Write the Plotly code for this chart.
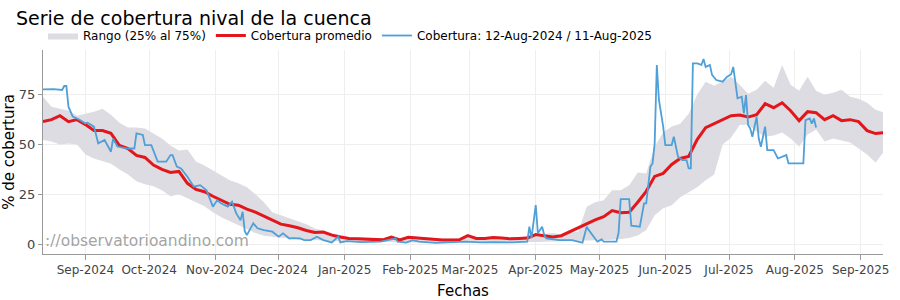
import pandas as pd
import plotly.graph_objects as go

start = "2024-08-12"

# Cobertura promedio y rango (25%-75%), muestreado cada 4 dias desde 12-Aug-2024
promedio = [61.5, 62.5, 64.5, 61.5, 62.5, 60.0, 57.0, 57.0, 55.6, 49.5,
            48.0, 44.5, 43.5, 39.7, 37.5, 36.0, 36.5, 30.5, 27.5, 26.3,
            24.0, 21.8, 20.0, 19.5, 17.5, 16.0, 14.0, 12.0, 10.0, 9.2,
            8.2, 6.8, 5.8, 6.0, 4.5, 3.5, 2.8, 2.6, 2.4, 2.3,
            2.1, 3.5, 2.1, 3.4, 3.0, 2.5, 2.2, 2.0, 2.0, 2.1,
            4.2, 2.8, 2.8, 3.3, 3.0, 2.6, 2.8, 3.0, 4.8, 4.2,
            3.6, 4.2, 6.2, 8.0, 10.0, 12.2, 13.7, 16.8, 15.7, 16.0,
            21.0, 26.5, 34.0, 35.5, 40.0, 43.0, 44.0, 52.5, 58.5, 60.5,
            62.3, 64.5, 64.8, 63.8, 65.0, 70.5, 68.5, 71.0, 67.0, 62.0,
            66.5, 66.0, 62.5, 64.5, 62.0, 62.5, 61.5, 57.0, 55.5, 56.0]

p75 = [74.0, 69.0, 68.0, 67.0, 64.5, 65.5, 66.5, 68.0, 65.0, 61.0,
       58.5, 58.5, 58.0, 55.5, 53.0, 49.5, 47.0, 47.5, 41.5, 39.5,
       37.0, 34.8, 32.0, 30.5, 28.5, 25.0, 21.0, 16.0, 14.5, 13.0,
       11.5, 10.0, 7.8, 6.5, 5.5, 4.5, 3.5, 3.3, 3.1, 3.0,
       2.9, 4.0, 2.9, 3.9, 3.6, 3.2, 2.9, 2.8, 2.8, 2.9,
       4.6, 3.4, 3.4, 3.8, 3.6, 3.3, 3.4, 3.8, 5.5, 5.0,
       5.5, 4.8, 6.0, 6.2, 18.8, 21.0, 22.0, 27.0, 27.0, 29.5,
       36.0, 35.5, 49.0, 56.0, 59.0, 60.5, 65.5, 75.0, 81.5, 79.5,
       81.5, 84.0, 80.0, 75.5, 77.5, 82.0, 78.5, 90.0, 80.0, 77.0,
       84.0, 77.0, 75.0, 76.0, 77.5, 74.0, 73.0, 71.0, 67.5, 66.0]

p25 = [52.3, 51.5, 50.0, 50.5, 50.0, 45.0, 43.0, 41.8, 40.3, 37.5,
       35.0, 31.5, 30.0, 29.0, 27.0, 24.0, 25.0, 23.0, 21.0, 19.0,
       16.0, 13.5, 11.5, 9.5, 7.5, 5.5, 4.2, 3.6, 3.2, 2.8,
       2.5, 2.2, 2.0, 1.8, 1.4, 1.2, 1.0, 0.9, 1.0, 0.8,
       0.9, 1.0, 0.8, 0.7, 0.9, 0.8, 0.8, 0.7, 0.8, 0.9,
       0.8, 0.9, 0.8, 0.8, 0.7, 0.8, 0.8, 0.9, 1.0, 1.2,
       1.3, 1.5, 1.7, 1.7, 1.7, 1.8, 2.0, 2.2, 2.5, 3.0,
       4.3, 7.0, 14.5, 18.0, 19.5, 23.5, 26.0, 28.5, 32.0, 35.0,
       50.0, 53.5, 59.8, 60.0, 56.5, 54.0, 54.5, 56.0, 53.0, 49.0,
       55.0, 57.5, 51.5, 53.0, 52.0, 51.0, 48.0, 45.0, 41.0, 46.5]

# Cobertura 12-Aug-2024 / 11-Aug-2025: dias desde el inicio y valor
cob_dia = [0, 5, 9, 10, 11, 12, 14, 17, 20, 21, 24, 26, 29, 32, 33, 35, 40, 43, 44, 47,
           48, 51, 54, 58, 60, 61, 63, 65, 68, 71, 74, 77, 80, 82, 84, 87, 89, 91, 93, 94,
           95, 96, 99, 101, 104, 108, 111, 113, 116, 118, 121, 123, 126, 129, 132, 136, 139, 140, 143, 150,
           159, 166, 167, 171, 174, 177, 185, 190, 199, 206, 213, 221, 228, 229, 230, 232, 233, 235, 236, 237,
           243, 249, 254, 256, 257, 261, 263, 264, 270, 271, 272, 276, 277, 281, 283, 284, 286, 287, 288, 289,
           290, 292, 293, 296, 297, 299, 301, 303, 304, 305, 306, 308, 310, 311, 312, 314, 315, 317, 320, 322,
           324, 325, 326, 327, 329, 330, 331, 332, 333, 334, 336, 337, 338, 340, 341, 344, 346, 350, 351, 358,
           359, 361, 362, 363, 364]
cob_val = [77.7, 77.8, 77.4, 79.4, 79.4, 69.0, 64.0, 62.6, 60.6, 61.0, 59.0, 50.6, 52.3, 46.4, 53.0, 49.0, 48.0, 48.0, 55.6, 54.8,
           49.7, 49.7, 41.4, 41.4, 44.7, 44.7, 38.9, 38.0, 33.8, 28.8, 29.6, 27.0, 18.8, 22.0, 20.4, 18.8, 21.3, 15.4, 12.0, 16.2,
           6.5, 4.5, 10.4, 7.9, 7.0, 6.2, 3.7, 5.4, 2.8, 3.0, 2.8, 2.0, 2.0, 3.7, 2.0, 0.8, 3.7, 0.8, 1.5, 1.0,
           1.2, 2.8, 1.2, 0.7, 2.0, 1.2, 0.6, 0.8, 1.2, 0.8, 1.0, 0.8, 1.2, 8.7, 3.0, 19.6, 5.4, 8.7, 4.5, 2.8,
           2.0, 2.0, 0.7, 8.7, 7.0, 1.2, 2.3, 1.2, 1.2, 5.7, 22.6, 22.6, 9.2, 8.7, 20.4, 20.4, 38.9, 40.5, 50.6, 90.0,
           72.4, 59.0, 49.7, 49.7, 53.9, 43.9, 42.2, 42.2, 38.0, 38.0, 90.8, 90.8, 90.0, 93.0, 89.0, 90.0, 85.0, 82.4, 81.6, 84.0,
           85.3, 89.0, 80.7, 73.2, 74.0, 65.7, 74.9, 59.8, 58.0, 53.9, 64.0, 53.0, 48.9, 59.0, 47.2, 47.2, 43.0, 44.7, 40.5, 40.5,
           62.3, 63.1, 60.5, 63.1, 58.6]

fechas = pd.date_range(start, periods=len(promedio), freq="4D")
cob_fechas = pd.Timestamp(start) + pd.to_timedelta(cob_dia, unit="D")

FONT = "DejaVu Sans"

fig = go.Figure()
fig.add_trace(go.Scatter(x=fechas, y=p75, mode="lines", line=dict(width=0, color="#dcdce2"),
                         showlegend=False, hoverinfo="skip"))
fig.add_trace(go.Scatter(x=fechas, y=p25, mode="lines", line=dict(width=0, color="#dcdce2"),
                         fill="tonexty", fillcolor="#dcdce2", name="Rango (25% al 75%)"))
fig.add_trace(go.Scatter(x=fechas, y=promedio, mode="lines", line=dict(width=3, color="#e3161b"),
                         name="Cobertura promedio"))
fig.add_trace(go.Scatter(x=cob_fechas, y=cob_val, mode="lines", line=dict(width=1.8, color="#4f9fd8"),
                         name="Cobertura: 12-Aug-2024 / 11-Aug-2025"))

fig.update_layout(
    width=900, height=300,
    margin=dict(l=43, r=17, t=50, b=46),
    paper_bgcolor="white", plot_bgcolor="white",
    font=dict(family=FONT, size=12, color="#444"),
    title=dict(text="Serie de cobertura nival de la cuenca", x=16/900, xanchor="left",
               y=1-18/300, yanchor="middle", font=dict(family=FONT, size=19, color="black")),
    legend=dict(orientation="h", x=0, xanchor="left", y=1.0, yanchor="bottom", traceorder="normal",
                font=dict(family=FONT, size=12, color="black"), bgcolor="rgba(0,0,0,0)",
                tracegroupgap=0),
    showlegend=True,
    xaxis=dict(range=["2024-08-12", "2025-09-11 12:00"], dtick="M1", tick0="2024-09-01",
               tickformat="%b-%Y", showgrid=True, gridcolor="#eeeeee", showline=True,
               linecolor="#999", ticks="outside", ticklen=5, tickcolor="#999", automargin=False,
               tickfont=dict(size=12, color="#444"),
               title=dict(text="Fechas", font=dict(size=15, color="black"), standoff=14)),
    yaxis=dict(range=[-5, 97.5], tickvals=[0, 25, 50, 75], showgrid=True, gridcolor="#eeeeee",
               showline=True, linecolor="#999", ticks="outside", ticklen=4, tickcolor="#999",
               zeroline=False, automargin=False, tickfont=dict(size=13, color="#444"),
               title=dict(text="% de cobertura", font=dict(size=15, color="black"), standoff=6)),
    annotations=[dict(text="://observatorioandino.com", xref="paper", yref="paper", x=0, y=0.064,
                      xanchor="left", yanchor="middle", xshift=0, showarrow=False,
                      font=dict(family=FONT, size=15.5, color="rgba(140,140,140,0.8)"))],
)

fig.write_html("out.html")
